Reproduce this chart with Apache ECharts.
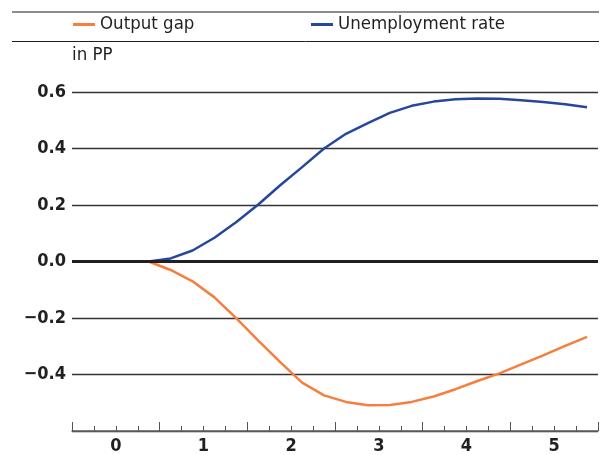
<!DOCTYPE html>
<html>
<head>
<meta charset="utf-8">
<script src="https://cdn.jsdelivr.net/npm/echarts@6/dist/echarts.min.js"></script>
<style>html,body{margin:0;padding:0;background:#fff;}#c{width:614px;height:455px;}</style>
</head>
<body>
<div id="c"></div>
<script>
var seriesNames = ['Output gap', 'Unemployment rate'];
var quarters = [-0.375, -0.125, 0.125, 0.375, 0.625, 0.875, 1.125, 1.375, 1.625, 1.875, 2.125, 2.375,
                2.625, 2.875, 3.125, 3.375, 3.625, 3.875, 4.125, 4.375, 4.625, 4.875, 5.125, 5.375];
var outputGap = [0, 0, 0, 0, -0.030, -0.070, -0.127, -0.201, -0.280, -0.356, -0.429, -0.474,
                 -0.497, -0.509, -0.508, -0.497, -0.478, -0.452, -0.423, -0.396, -0.364, -0.332, -0.299, -0.267];
var unemployment = [0, 0, 0, 0, 0.011, 0.039, 0.084, 0.140, 0.202, 0.270, 0.334, 0.400,
                    0.452, 0.490, 0.526, 0.551, 0.566, 0.574, 0.577, 0.576, 0.571, 0.565, 0.557, 0.546];
var yTicks = [-0.6, -0.4, -0.2, 0.0, 0.2, 0.4, 0.6];
var unitLabel = 'in PP';

var FONT = "'DejaVu Sans Condensed', 'DejaVu Sans', sans-serif";
var INK = '#231f20';
var ORANGE = '#f47f3e';
var BLUE = '#26479c';

function pairs(xs, ys) { return xs.map(function (x, i) { return [x, ys[i]]; }); }

var chart = echarts.init(document.getElementById('c'), null, { renderer: 'canvas' });
chart.setOption({
  animation: false,
  backgroundColor: '#ffffff',
  textStyle: { fontFamily: FONT },
  title: {
    text: unitLabel, left: 72, top: 46, padding: 0,
    textStyle: { fontFamily: FONT, fontSize: 18.5, fontWeight: 'normal', color: INK }
  },
  legend: [
    { data: [seriesNames[0]], left: 73, top: 15, padding: 0, icon: 'rect', itemWidth: 22, itemHeight: 3,
      textStyle: { fontFamily: FONT, fontSize: 18.5, color: INK } },
    { data: [seriesNames[1]], left: 311, top: 15, padding: 0, icon: 'rect', itemWidth: 22, itemHeight: 3,
      textStyle: { fontFamily: FONT, fontSize: 18.5, color: INK } }
  ],
  graphic: [
    { type: 'line', shape: { x1: 12, y1: 12, x2: 599, y2: 12 }, style: { stroke: '#8c8c8c', lineWidth: 2 } },
    { type: 'line', shape: { x1: 12, y1: 41.5, x2: 599, y2: 41.5 }, style: { stroke: INK, lineWidth: 1 } }
  ],
  grid: { left: 72, right: 16, top: 92, bottom: 22, containLabel: false },
  xAxis: [
    {
      type: 'value', min: -0.5, max: 5.5, interval: 0.5, position: 'bottom',
      axisLine: { show: true, onZero: false, lineStyle: { color: '#666', width: 1.5 } },
      axisTick: { show: true, inside: true, length: 5, lineStyle: { color: '#555', width: 1 } },
      minorTick: { show: true, splitNumber: 2, length: 5, lineStyle: { color: '#555', width: 1 } },
      splitLine: { show: false },
      axisLabel: {
        margin: 6, fontFamily: FONT, fontSize: 18, fontWeight: 'bold', color: INK,
        showMinLabel: true, showMaxLabel: true,
        formatter: function (v) { return Math.abs(v - Math.round(v)) < 1e-9 ? String(Math.round(v)) : ''; }
      }
    },
    {
      type: 'value', min: -0.5, max: 5.5, interval: 1, position: 'bottom', offset: 0,
      axisLine: { show: false, onZero: false },
      axisTick: { show: true, inside: true, length: 9, lineStyle: { color: '#555', width: 1 } },
      splitLine: { show: false },
      axisLabel: { show: false }
    }
  ],
  yAxis: {
    type: 'value', min: yTicks[0], max: yTicks[yTicks.length - 1], interval: 0.2,
    axisLine: { show: false }, axisTick: { show: false },
    splitLine: { show: true, lineStyle: { color: '#333', width: 1.3 } },
    axisLabel: {
      margin: 6, fontFamily: FONT, fontSize: 18, fontWeight: 'bold', color: INK,
      formatter: function (v) {
        if (Math.abs(v - yTicks[0]) < 1e-9) return '';
        var s = Math.abs(v).toFixed(1);
        return v < -1e-9 ? '\u2212' + s : s;
      }
    }
  },
  series: [
    {
      name: seriesNames[0], type: 'line', xAxisIndex: 0, data: pairs(quarters, outputGap),
      showSymbol: false, smooth: false, lineStyle: { color: ORANGE, width: 2.5 }, itemStyle: { color: ORANGE },
      z: 3
    },
    {
      name: seriesNames[1], type: 'line', xAxisIndex: 0, data: pairs(quarters, unemployment),
      showSymbol: false, smooth: false, lineStyle: { color: BLUE, width: 2.5 }, itemStyle: { color: BLUE },
      z: 3,
      markLine: {
        silent: true, symbol: ['none', 'none'], label: { show: false },
        lineStyle: { color: INK, width: 3, type: 'solid' },
        data: [{ yAxis: 0 }], z: 5
      }
    }
  ]
});
</script>
</body>
</html>
